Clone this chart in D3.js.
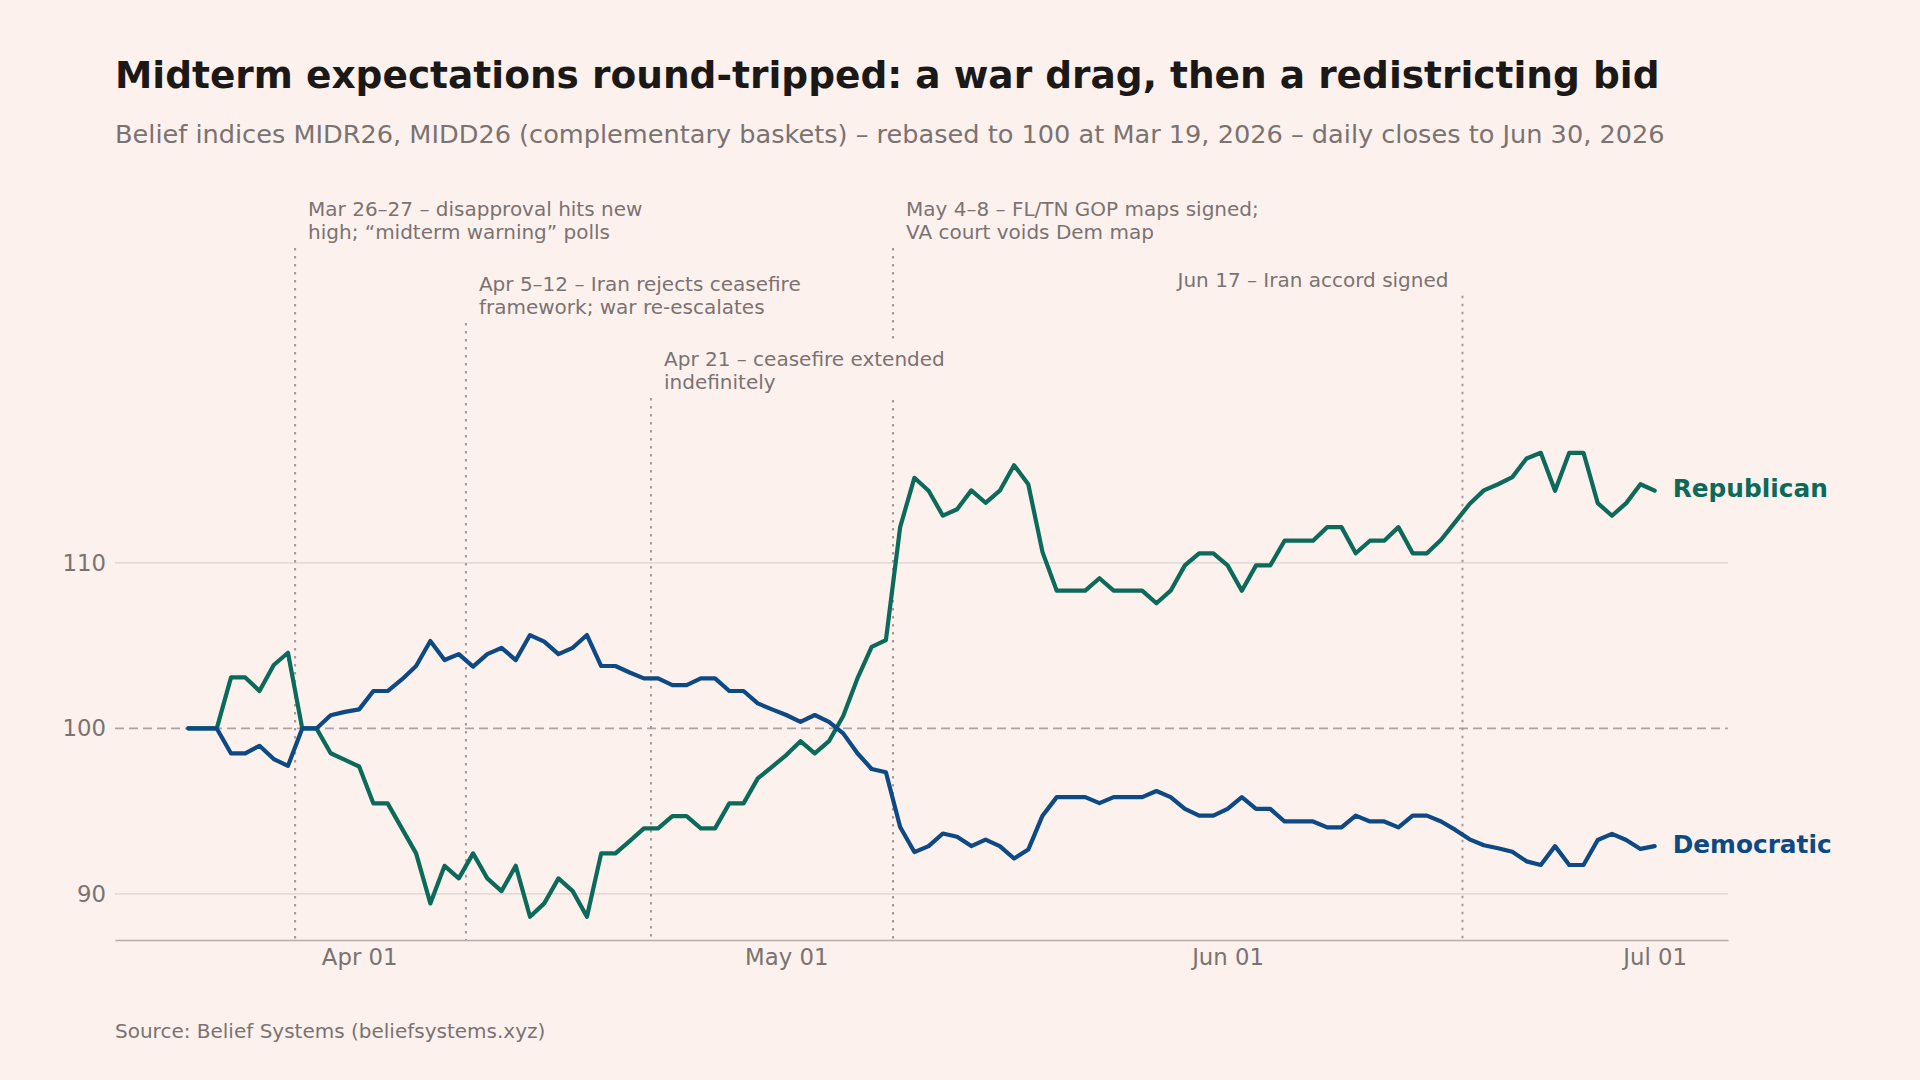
<!DOCTYPE html>
<html lang="en">
<head>
<meta charset="UTF-8">
<title>Midterm expectations</title>
<script src="https://cdnjs.cloudflare.com/ajax/libs/d3/7.8.5/d3.min.js"></script>
<style>
  body { margin: 0; background: #fdf1ed; }
  svg { display: block; font-family: "DejaVu Sans", sans-serif; }
</style>
</head>
<body>
<svg id="chart" width="1920" height="1080"></svg>
<script>
// daily closes, Mar 19 .. Jun 30 2026 (104 days)
var startDay = "2026-03-19"
var endDay = "2026-06-30"

var repValues = [
  100, 100, 100, 103.08, 103.08, 102.26, 103.83, 104.57, 100, 100,
  98.5, 98.1, 97.7, 95.47, 95.47, 93.96, 92.45, 89.43, 91.70, 90.94,
  92.45, 90.94, 90.17, 91.70, 88.62, 89.43, 90.94, 90.17, 88.62, 92.45,
  92.45, 93.19, 93.96, 93.96, 94.70, 94.70, 93.96, 93.96, 95.47, 95.47,
  96.98, 97.68, 98.39, 99.23, 98.49, 99.23, 100.75, 103.02, 104.93, 105.34,
  112.16, 115.14, 114.36, 112.85, 113.24, 114.38, 113.63, 114.36, 115.90, 114.75,
  110.65, 108.32, 108.32, 108.32, 109.07, 108.32, 108.32, 108.32, 107.56, 108.32,
  109.85, 110.58, 110.58, 109.85, 108.32, 109.85, 109.85, 111.34, 111.34, 111.34,
  112.16, 112.16, 110.58, 111.34, 111.34, 112.16, 110.58, 110.58, 111.40, 112.48,
  113.56, 114.38, 114.75, 115.18, 116.31, 116.65, 114.36, 116.65, 116.65, 113.61,
  112.85, 113.61, 114.75, 114.36
]

var demValues = [
  100, 100, 100, 98.49, 98.49, 98.95, 98.15, 97.74, 100, 100,
  100.8, 101.0, 101.15, 102.26, 102.26, 102.96, 103.77, 105.28, 104.13, 104.49,
  103.73, 104.49, 104.87, 104.13, 105.64, 105.24, 104.49, 104.87, 105.64, 103.77,
  103.77, 103.38, 103.02, 103.02, 102.62, 102.62, 103.02, 103.02, 102.26, 102.26,
  101.51, 101.15, 100.81, 100.40, 100.81, 100.40, 99.70, 98.5, 97.55, 97.35,
  94.04, 92.53, 92.89, 93.65, 93.46, 92.89, 93.28, 92.89, 92.14, 92.68,
  94.73, 95.85, 95.85, 95.85, 95.49, 95.85, 95.85, 95.85, 96.22, 95.85,
  95.14, 94.73, 94.73, 95.14, 95.85, 95.14, 95.14, 94.38, 94.38, 94.38,
  94.02, 94.02, 94.73, 94.38, 94.38, 94.02, 94.73, 94.73, 94.38, 93.87,
  93.30, 92.94, 92.76, 92.55, 91.97, 91.75, 92.89, 91.75, 91.75, 93.26,
  93.63, 93.26, 92.72, 92.89
]

var seriesNames = ["Republican", "Democratic"]
var yTickValues = [90, 100, 110]
var baseline = 100

var eventDates = ["2026-03-27", "2026-04-08", "2026-04-21", "2026-05-08", "2026-06-17"]
var eventLabels = [
  ["Mar 26–27 – disapproval hits new", "high; “midterm warning” polls"],
  ["Apr 5–12 – Iran rejects ceasefire", "framework; war re-escalates"],
  ["Apr 21 – ceasefire extended", "indefinitely"],
  ["May 4–8 – FL/TN GOP maps signed;", "VA court voids Dem map"],
  ["Jun 17 – Iran accord signed"]
]

var titleText = "Midterm expectations round-tripped: a war drag, then a redistricting bid"
var subtitleText = "Belief indices MIDR26, MIDD26 (complementary baskets) – rebased to 100 at Mar 19, 2026 – daily closes to Jun 30, 2026"
var sourceText = "Source: Belief Systems (beliefsystems.xyz)"

// ---- layout / style ----
var plot = {left: 115, right: 1728, top: 429.6, bottom: 940}
var colors = {rep: "#0b6a5a", dem: "#0c4985", text: "#7a7372", title: "#1b1918",
              grid: "#dbd2d0", base: "#aca4a3", axis: "#b9adab", event: "#a59a9a", bg: "#fdf1ed"}
var eventTier = [0, 1, 2, 0, 0.95]
var eventAlign = ["start", "start", "start", "start", "end"]

var parse = d3.utcParse("%Y-%m-%d")
var days = d3.utcDay.range(parse(startDay), d3.utcDay.offset(parse(endDay), 1))
// closes are stamped at the end of each day
var closeTimes = days.map(function(d) { return d3.utcDay.offset(d, 1) })

var svg = d3.select("#chart")
svg.append("rect").attr("width", 1920).attr("height", 1080).attr("fill", colors.bg)

// scales with 5% margins, like the original plot
var tExt = d3.extent(closeTimes)
var tPad = (tExt[1] - tExt[0]) * 0.05
var x = d3.scaleUtc()
  .domain([new Date(+tExt[0] - tPad), new Date(+tExt[1] + tPad)])
  .range([plot.left, plot.right])

var allVals = repValues.concat(demValues)
var yMin = d3.min(allVals), yMax = d3.max(allVals)
var yPad = (yMax - yMin) * 0.05
var y = d3.scaleLinear()
  .domain([yMin - yPad, yMax + yPad])
  .range([plot.bottom, plot.top])

// gridlines
svg.append("g").selectAll("line")
  .data(yTickValues)
  .enter().append("line")
  .attr("x1", plot.left).attr("x2", plot.right)
  .attr("y1", function(d) { return y(d) }).attr("y2", function(d) { return y(d) })
  .attr("stroke", function(d) { return d === baseline ? colors.base : colors.grid })
  .attr("stroke-width", function(d) { return d === baseline ? 1.7 : 1.3 })
  .attr("stroke-dasharray", function(d) { return d === baseline ? "9,5" : null })

// y tick labels
svg.append("g").selectAll("text")
  .data(yTickValues)
  .enter().append("text")
  .attr("x", plot.left - 9)
  .attr("y", function(d) { return y(d) })
  .attr("text-anchor", "end")
  .attr("dominant-baseline", "central")
  .attr("font-size", "22.8px")
  .attr("fill", colors.text)
  .text(function(d) { return d })

// x axis
var xAxis = d3.axisBottom(x)
  .ticks(d3.utcMonth.every(1))
  .tickFormat(d3.utcFormat("%b %d"))
  .tickSize(0)
  .tickPadding(9)
var gx = svg.append("g").attr("transform", "translate(0," + plot.bottom + ")").call(xAxis)
gx.select(".domain").attr("stroke", colors.axis).attr("stroke-width", 1.5)
gx.selectAll("text")
  .attr("font-family", "DejaVu Sans")
  .attr("font-size", "22.8px")
  .attr("fill", colors.text)

// event markers
var events = eventDates.map(function(d, i) {
  return {t: d3.utcHour.offset(parse(d), 12), lines: eventLabels[i], tier: eventTier[i], align: eventAlign[i]}
})
var lineGap = 23.4
events.forEach(function(ev) {
  ev.x = x(ev.t)
  ev.base = 215.5 + ev.tier * 75
  ev.top = ev.base + (ev.lines.length - 1) * lineGap + 9
})

svg.append("g").selectAll("line")
  .data(events)
  .enter().append("line")
  .attr("x1", function(d) { return d.x }).attr("x2", function(d) { return d.x })
  .attr("y1", function(d) { return d.top }).attr("y2", plot.bottom)
  .attr("stroke", colors.event)
  .attr("stroke-width", 2)
  .attr("stroke-dasharray", "2.5,5.5")

// series lines
var line = d3.line()
  .x(function(d, i) { return x(closeTimes[i]) })
  .y(function(d) { return y(d) })

var series = [
  {name: seriesNames[0], values: repValues, color: colors.rep},
  {name: seriesNames[1], values: demValues, color: colors.dem}
]

svg.append("g").selectAll("path")
  .data(series)
  .enter().append("path")
  .attr("d", function(d) { return line(d.values) })
  .attr("fill", "none")
  .attr("stroke", function(d) { return d.color })
  .attr("stroke-width", 4.2)
  .attr("stroke-linejoin", "round")
  .attr("stroke-linecap", "round")

// series end labels
svg.append("g").selectAll("text")
  .data(series)
  .enter().append("text")
  .attr("x", x(closeTimes[closeTimes.length - 1]) + 18)
  .attr("y", function(d) { return y(d.values[d.values.length - 1]) - 2 })
  .attr("dominant-baseline", "central")
  .attr("font-size", "24.8px")
  .attr("font-weight", "bold")
  .attr("fill", function(d) { return d.color })
  .text(function(d) { return d.name })

// event labels, each on a background box
var eg = svg.append("g").selectAll("g")
  .data(events)
  .enter().append("g")

eg.each(function(ev) {
  var g = d3.select(this)
  var bg = g.append("rect").attr("fill", colors.bg)
  var tx = ev.align === "end" ? ev.x - 14 : ev.x + 13
  var t = g.append("text")
    .attr("font-size", "20px")
    .attr("fill", colors.text)
    .attr("text-anchor", ev.align)
  ev.lines.forEach(function(s, i) {
    t.append("tspan").attr("x", tx).attr("y", ev.base + i * lineGap).text(s)
  })
  var bb = t.node().getBBox()
  bg.attr("x", bb.x - 6).attr("y", bb.y - 6).attr("width", bb.width + 12).attr("height", bb.height + 12)
})

// titles
svg.append("text")
  .attr("x", 115).attr("y", 88)
  .attr("font-size", "37.5px").attr("font-weight", "bold")
  .attr("fill", colors.title)
  .text(titleText)

svg.append("text")
  .attr("x", 115).attr("y", 143)
  .attr("font-size", "25.6px")
  .attr("fill", colors.text)
  .text(subtitleText)

svg.append("text")
  .attr("x", 115).attr("y", 1038)
  .attr("font-size", "20px")
  .attr("fill", colors.text)
  .text(sourceText)
</script>
</body>
</html>
